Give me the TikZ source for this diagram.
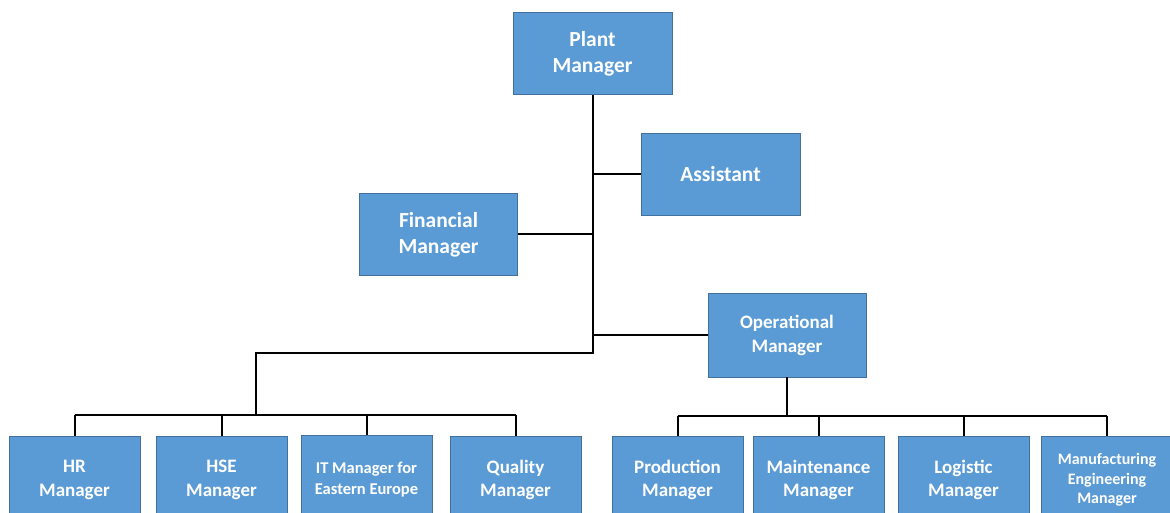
\documentclass[tikz,border=0pt]{standalone}
\usepackage{fontspec}
\setmainfont{Carlito}
\definecolor{boxfill}{HTML}{5B9BD5}
\definecolor{boxedge}{HTML}{41719C}
\begin{document}
\begin{tikzpicture}[x=1pt,y=-1pt,
  orgbox/.style={draw=boxedge,line width=0.9pt,fill=boxfill,text=white,
    align=center,inner sep=0pt,minimum height=82pt},
  topbox/.style={orgbox,minimum width=159pt,font=\fontsize{21.5}{26}\selectfont\bfseries},
  midbox/.style={orgbox,minimum width=158pt,font=\fontsize{19}{24}\selectfont\bfseries},
  lowbox/.style={orgbox,minimum width=131pt,minimum height=88pt,
    font=\fontsize{19}{23.5}\selectfont\bfseries},
  smalltext/.style={font=\fontsize{16.5}{21}\selectfont\bfseries},
  tinytext/.style={font=\fontsize{16}{19.5}\selectfont\bfseries},
  link/.style={draw=black,line width=2pt}]
\useasboundingbox (0,0) rectangle (1170,513);
\clip (0,0) rectangle (1170,513);
\fill[white] (0,0) rectangle (1170,513);

% upper levels
\node[topbox] (plant)  at (592.5,53.5)  {Plant\\Manager};
\node[topbox] (assist) at (720.5,174) {Assistant};
\node[topbox,minimum width=158pt] (fin) at (438.5,234.5) {Financial\\Manager};
\node[midbox,minimum height=84pt] (ops) at (787,335) {Operational\\Manager};

% staff functions
\node[lowbox] (hr)   at (74.5,480)  {HR\\Manager};
\node[lowbox] (hse)  at (221.5,480) {HSE\\Manager};
\node[lowbox,smalltext] (it) at (366.5,479.5) {IT Manager for\\Eastern Europe};
\node[lowbox] (qual) at (515.5,480) {Quality\\Manager};

% operations
\node[lowbox] (prod)  at (677.5,480) {Production\\Manager};
\node[lowbox] (maint) at (818.5,480) {Maintenance\\Manager};
\node[lowbox] (logi)  at (963.5,480) {Logistic\\Manager};
\node[lowbox,tinytext,minimum width=132pt] (mfg) at (1107,480) {Manufacturing\\Engineering\\Manager};

% trunk and branches
\coordinate (ljoin) at (256,353);
\coordinate (lbus) at (256,415);
\coordinate (rbus) at (787,416);
\draw[link] (plant.south) -- (plant.south |- ljoin) -- (ljoin) -- (lbus);
\draw[link] (assist.west) -- (assist.west -| plant.south);
\draw[link] (fin.east) -- (fin.east -| plant.south);
\draw[link] (ops.west) -- (ops.west -| plant.south);

% lower-left bus
\draw[link] (hr.north |- lbus) -- (qual.north |- lbus);
\foreach \n in {hr,hse,it,qual} \draw[link] (\n.north |- lbus) -- (\n.north);

% lower-right bus
\draw[link] (ops.south) -- (rbus);
\draw[link] (prod.north |- rbus) -- (mfg.north |- rbus);
\foreach \n in {prod,maint,logi,mfg} \draw[link] (\n.north |- rbus) -- (\n.north);
\end{tikzpicture}
\end{document}
